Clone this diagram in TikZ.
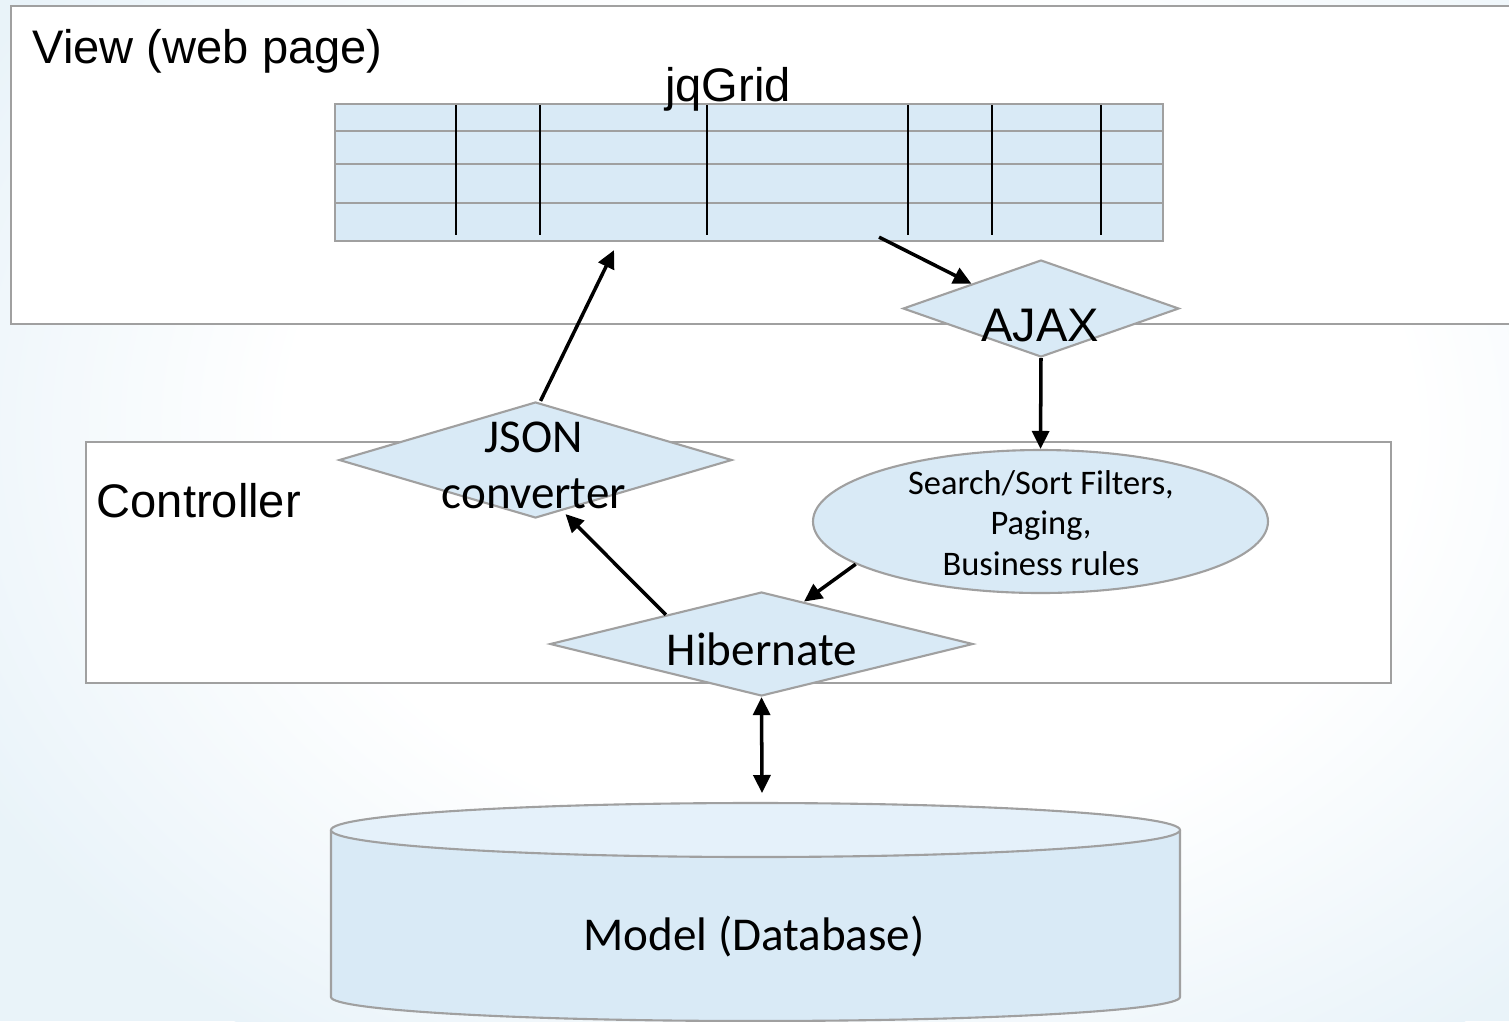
\documentclass[tikz,border=0pt]{standalone}
\usepackage{fontspec}
\setmainfont{Liberation Sans}
\newfontfamily\calfont{Carlito}
\usetikzlibrary{shapes.geometric, arrows.meta, positioning, calc}
\definecolor{cellblue}{RGB}{217,234,246}
\definecolor{lidblue}{RGB}{229,241,250}
\definecolor{edgegray}{RGB}{160,160,160}
\definecolor{bgblue}{RGB}{233,243,249}
\pgfdeclareradialshading{bgfade}{\pgfpoint{0bp}{0bp}}{color(0bp)=(white); color(14bp)=(white); color(25bp)=(bgblue); color(50bp)=(bgblue)}
\tikzset{
    panel/.style={rectangle, draw=edgegray, fill=white, line width=0.6pt, anchor=north west, inner sep=0pt},
    tablebox/.style={rectangle, draw=edgegray, fill=cellblue, line width=0.6pt, anchor=north west, inner sep=0pt},
    decision/.style={diamond, draw=edgegray, fill=cellblue, line width=0.6pt, inner sep=0pt},
    bubble/.style={ellipse, draw=edgegray, fill=cellblue, line width=0.6pt, inner sep=0pt},
    sanslabel/.style={font=\fontsize{13.4}{16}\selectfont, inner sep=0pt},
    calilabel/.style={font=\calfont\fontsize{13.4}{15.9}\selectfont, align=center, inner sep=0pt},
    smalllabel/.style={font=\calfont\fontsize{9.8}{11.6}\selectfont, align=center, inner sep=0pt},
    rowline/.style={edgegray, line width=0.6pt},
    colline/.style={black, line width=0.55pt},
    arrow/.style={-{Triangle[length=1.8mm, width=1.7mm]}, line width=1pt, black},
    dblarrow/.style={{Triangle[length=1.8mm, width=1.7mm]}-{Triangle[length=1.8mm, width=1.7mm]}, line width=1pt, black},
}

\begin{document}
\begin{tikzpicture}
    \useasboundingbox (0,0) rectangle (15.09,-10.21);
    \fill[bgblue] (0,0) rectangle (15.09,-10.21);
    \shade[shading=bgfade] (8.5,-4.3) ellipse [x radius=10, y radius=7.5];

    % layers
    \node[panel, minimum width=15.2cm, minimum height=3.18cm] (view) at (0.10,-0.05) {};
    \node[sanslabel, anchor=base west] (viewtxt) at (0.32,-0.63) {View (web page)};
    \node[panel, minimum width=13.05cm, minimum height=2.41cm] (ctrl) at (0.85,-4.41) {};
    \node[sanslabel, anchor=base west] (ctrltxt) at (0.96,-5.17) {Controller};

    % jqGrid table
    \node[tablebox, minimum width=8.28cm, minimum height=1.37cm] (grid) at (3.34,-1.03) {};
    \foreach \y in {1.31,1.64,2.03}
        \draw[rowline] (3.34,-\y) -- (11.62,-\y);
    \foreach \x in {4.56,5.40,7.07,9.08,9.92,11.01}
        \draw[colline] (\x,-1.05) -- (\x,-2.35);
    \node[sanslabel, anchor=base] (gridtxt) at (7.28,-1.01) {jqGrid};

    \node[decision, minimum width=2.76cm, minimum height=0.97cm] (ajax) at (10.41,-3.085) {};
    \node[sanslabel, anchor=base] (ajaxtxt) at (10.40,-3.41) {AJAX};

    \node[decision, minimum width=3.93cm, minimum height=1.16cm] (json) at (5.355,-4.60) {};
    \node[calilabel] (jsontxt) at (5.34,-4.65) {JSON\\converter};

    \node[bubble, minimum width=4.55cm, minimum height=1.43cm] (srch) at (10.405,-5.215) {};
    \node[smalllabel] (srchtxt) at (10.41,-5.23) {Search/Sort Filters,\\Paging,\\Business rules};

    \node[decision, minimum width=4.23cm, minimum height=1.04cm] (hib) at (7.615,-6.44) {};
    \node[calilabel, anchor=base] (hibtxt) at (7.62,-6.65) {Hibernate};

    % database
    \fill[cellblue] (3.31,-8.30) -- (3.31,-9.97) arc[start angle=180, end angle=360, x radius=4.245, y radius=0.24] -- (11.80,-8.30) -- cycle;
    \draw[edgegray, line width=0.6pt] (3.31,-8.30) -- (3.31,-9.97) arc[start angle=180, end angle=360, x radius=4.245, y radius=0.24] -- (11.80,-8.30);
    \draw[edgegray, line width=0.6pt, fill=lidblue] (7.555,-8.30) ellipse [x radius=4.245, y radius=0.27];
    \node[calilabel, anchor=base] (db) at (7.54,-9.50) {Model (Database)};
    \coordinate (dbtop) at (7.62,-7.93);

    \draw[arrow] ([xshift=1.3cm, yshift=0.5mm]grid.south) -- (ajax.north west);
    \draw[arrow] (ajax.south) -- (srch.north);
    \draw[arrow] (srch.193) -- ($(hib.north)!0.2!(hib.east)$);
    \draw[arrow] ($(hib.north)!0.45!(hib.west)$) -- ([xshift=3mm, yshift=0.5mm]json.south);
    \draw[arrow] ([xshift=0.5mm]json.north) -- ([xshift=-1.35cm, yshift=-0.8mm]grid.south);
    \draw[dblarrow] (hib.south) -- (dbtop);
\end{tikzpicture}
\end{document}
